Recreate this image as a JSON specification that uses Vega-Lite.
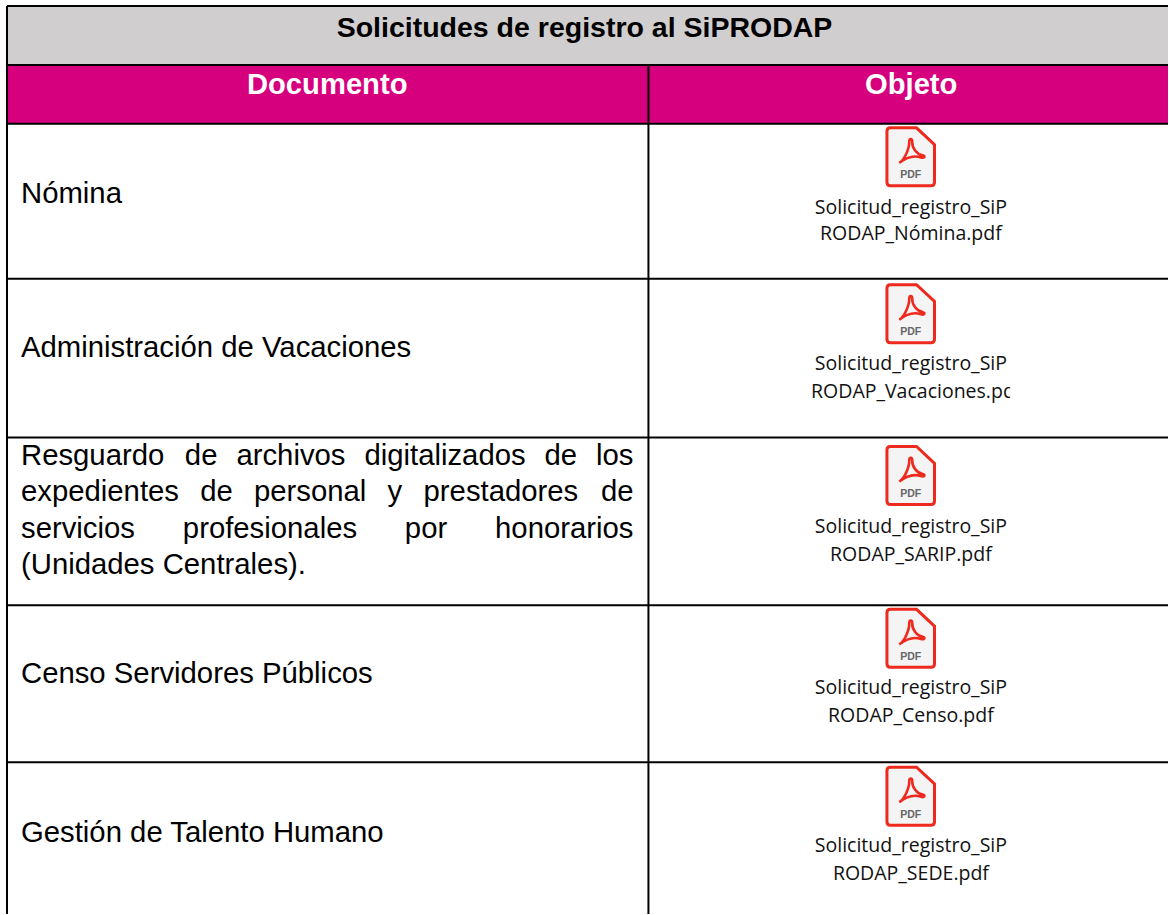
{"$schema":"https://vega.github.io/schema/vega-lite/v6.json","width":1169,"height":915,"padding":0,"autosize":{"type":"fit","contains":"padding"},"background":"white","config":{"view":{"stroke":null}},
"datasets":{
"cells":[{"role":"titulo","x0":7,"x1":1169,"y0":6,"y1":65},{"role":"encabezado","x0":7,"x1":1169,"y0":65,"y1":124}],
"lines":[{"x0":7,"x1":1169,"y0":6,"y1":6},{"x0":7,"x1":1169,"y0":65,"y1":65},{"x0":7,"x1":1169,"y0":124,"y1":124},{"x0":7,"x1":1169,"y0":279,"y1":279},{"x0":7,"x1":1169,"y0":438,"y1":438},{"x0":7,"x1":1169,"y0":606,"y1":606},{"x0":7,"x1":1169,"y0":763,"y1":763},{"x0":7,"x1":7,"y0":6,"y1":915},{"x0":649,"x1":649,"y0":65,"y1":915}],
"title":[{"t":"Solicitudes de registro al SiPRODAP","x":585,"y":37,"c":"k"}],
"heads":[{"t":"Documento","x":327.5,"y":94,"c":"w"},{"t":"Objeto","x":912,"y":94,"c":"w"}],
"body":[{"t":"Nómina","x":21,"y":203},{"t":"Administración de Vacaciones","x":21,"y":357},
{"t":"Resguardo","x":21,"y":466},{"t":"de","x":185,"y":466},{"t":"archivos","x":236.6,"y":466},{"t":"digitalizados","x":364.7,"y":466},{"t":"de","x":544.9,"y":466},{"t":"los","x":596.5,"y":466},
{"t":"expedientes","x":21,"y":502},{"t":"de","x":200.3,"y":502},{"t":"personal","x":254.2,"y":502},{"t":"y","x":387.9,"y":502},{"t":"prestadores","x":423.9,"y":502},{"t":"de","x":601.4,"y":502},
{"t":"servicios","x":21,"y":539},{"t":"profesionales","x":183,"y":539},{"t":"por","x":405.2,"y":539},{"t":"honorarios","x":495.5,"y":539},
{"t":"(Unidades Centrales).","x":21,"y":575},
{"t":"Censo Servidores Públicos","x":21,"y":684},{"t":"Gestión de Talento Humano","x":21,"y":843}],
"icons":[{"x":911.5,"y":157},{"x":911.5,"y":314},{"x":911.5,"y":476},{"x":911.5,"y":639},{"x":911.5,"y":797}],
"pdf":[{"t":"PDF","x":911.5,"y":178.5},{"t":"PDF","x":911.5,"y":335.5},{"t":"PDF","x":911.5,"y":497.5},{"t":"PDF","x":911.5,"y":660.5},{"t":"PDF","x":911.5,"y":818.5}],
"files":[{"t":"Solicitud_registro_SiP","x":911.7,"y":214},{"t":"RODAP_Nómina.pdf","x":911.7,"y":240},{"t":"Solicitud_registro_SiP","x":911.7,"y":370},{"t":"RODAP_Vacaciones.pdf","x":917,"y":398},{"t":"Solicitud_registro_SiP","x":911.7,"y":534},{"t":"RODAP_SARIP.pdf","x":911.7,"y":562},{"t":"Solicitud_registro_SiP","x":911.7,"y":695},{"t":"RODAP_Censo.pdf","x":911.7,"y":723},{"t":"Solicitud_registro_SiP","x":911.7,"y":853},{"t":"RODAP_SEDE.pdf","x":911.7,"y":881}],
"mask":[{"x0":1011,"x1":1040,"y0":378,"y1":408}]
},
"layer":[
{"data":{"name":"cells"},"mark":{"type":"rect"},"encoding":{"x":{"field":"x0","type":"quantitative","scale":{"domain":[0,1169],"nice":false,"zero":false},"axis":null},"x2":{"field":"x1"},"y":{"field":"y0","type":"quantitative","scale":{"domain":[915,0],"nice":false,"zero":false},"axis":null},"y2":{"field":"y1"},"color":{"field":"role","type":"nominal","legend":null,"scale":{"domain":["titulo","encabezado","k","w"],"range":["#d0cece","#d6007f","#000000","#ffffff"]}}}},
{"data":{"name":"lines"},"mark":{"type":"rule","color":"#000","strokeWidth":2},"encoding":{"x":{"field":"x0","type":"quantitative"},"x2":{"field":"x1"},"y":{"field":"y0","type":"quantitative"},"y2":{"field":"y1"}}},
{"data":{"name":"title"},"mark":{"type":"text","font":"Liberation Sans","fontWeight":"bold","fontSize":28.5,"align":"center","baseline":"alphabetic"},"encoding":{"x":{"field":"x","type":"quantitative"},"y":{"field":"y","type":"quantitative"},"text":{"field":"t"},"color":{"field":"c","type":"nominal","legend":null}}},
{"data":{"name":"heads"},"mark":{"type":"text","font":"Liberation Sans","fontWeight":"bold","fontSize":29.2,"align":"center","baseline":"alphabetic"},"encoding":{"x":{"field":"x","type":"quantitative"},"y":{"field":"y","type":"quantitative"},"text":{"field":"t"},"color":{"field":"c","type":"nominal","legend":null}}},
{"data":{"name":"body"},"mark":{"type":"text","font":"Liberation Sans","fontSize":29.3,"align":"left","baseline":"alphabetic","color":"#000"},"encoding":{"x":{"field":"x","type":"quantitative"},"y":{"field":"y","type":"quantitative"},"text":{"field":"t"}}},
{"data":{"name":"icons"},"mark":{"type":"point","filled":true,"fill":"#f4f4f4","stroke":"#ee2a1e","strokeWidth":3,"opacity":1,"size":3364,"shape":"M-.7 -1 L.2 -1 L.82 -.42 L.82 .88 Q.82 1 .7 1 L-.7 1 Q-.82 1 -.82 .88 L-.82 -.88 Q-.82 -1 -.7 -1 Z"},"encoding":{"x":{"field":"x","type":"quantitative"},"y":{"field":"y","type":"quantitative"}}},
{"data":{"name":"icons"},"mark":{"type":"point","filled":false,"stroke":"#ee2a1e","strokeWidth":2.6,"opacity":1,"size":3600,"shape":"M-.38 .2 C-.2 .1 -.04 -.3 -.05 -.5 C-.05 -.62 .06 -.62 .05 -.5 C.04 -.3 .2 -.08 .4 -.05 C.5 -.03 .46 .06 .34 .02 C.1 -.06 -.15 .02 -.38 .2 Z"},"encoding":{"x":{"field":"x","type":"quantitative"},"y":{"field":"y","type":"quantitative"}}},
{"data":{"name":"pdf"},"mark":{"type":"text","font":"Liberation Sans","fontWeight":"bold","fontSize":10.5,"align":"center","baseline":"alphabetic","color":"#666666"},"encoding":{"x":{"field":"x","type":"quantitative"},"y":{"field":"y","type":"quantitative"},"text":{"field":"t"}}},
{"data":{"name":"files"},"mark":{"type":"text","font":"Open Sans","fontSize":19.5,"align":"center","baseline":"alphabetic","color":"#111111"},"encoding":{"x":{"field":"x","type":"quantitative"},"y":{"field":"y","type":"quantitative"},"text":{"field":"t"}}},
{"data":{"name":"mask"},"mark":{"type":"rect","color":"#ffffff"},"encoding":{"x":{"field":"x0","type":"quantitative"},"x2":{"field":"x1"},"y":{"field":"y0","type":"quantitative"},"y2":{"field":"y1"}}}
]}
